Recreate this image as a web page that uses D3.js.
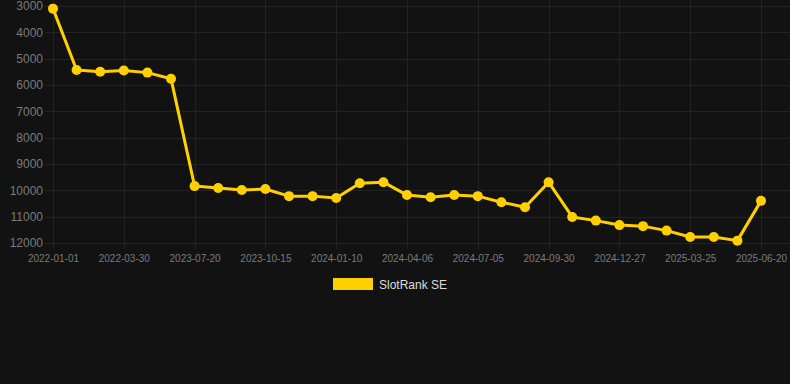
<!DOCTYPE html>
<html lang="en">
<head>
<meta charset="UTF-8">
<title>SlotRank SE</title>
<style>
    body { margin: 0; background: #121212; }
    #chart { width: 790px; height: 384px; }
    .grid line { stroke: #222222; stroke-width: 1px; }
    .axis text { fill: #7a7a7a; font-family: Arial, "Liberation Sans", sans-serif; }
    .axis path, .axis line { stroke: none; }
</style>
</head>
<body>
<div id="chart"></div>
<script src="https://cdn.jsdelivr.net/npm/d3@7/dist/d3.min.js"></script>
<script>
    var width = 790,
        height = 384;

    // rank per sample (31 samples, roughly one every 29 days)
    var rank = [3100, 5430, 5500, 5450, 5530, 5760, 9840, 9910, 9990, 9950,
                10220, 10220, 10290, 9730, 9690, 10180, 10260, 10180, 10220, 10450,
                10640, 9690, 11010, 11150, 11320, 11360, 11530, 11770, 11770, 11910,
                10400];
    // labels shown on the x axis, one every third sample
    var tickLabels = ["2022-01-01", "2022-03-30", "2023-07-20", "2023-10-15", "2024-01-10",
                      "2024-04-06", "2024-07-05", "2024-09-30", "2024-12-27", "2025-03-25", "2025-06-20"];
    var yTicks = [3000, 4000, 5000, 6000, 7000, 8000, 9000, 10000, 11000, 12000];
    var seriesName = "SlotRank SE";
    var color = "#ffd000";

    var svg = d3.select("#chart").append("svg")
        .attr("width", width)
        .attr("height", height);

    var plotLeft = 45, plotRight = 790, plotTop = 6, plotBottom = 243;

    var x = d3.scalePoint()
        .domain(d3.range(rank.length))
        .range([53, 761]);
    var y = d3.scaleLinear()
        .domain([3000, 12000])
        .range([plotTop, plotBottom]);

    // grid
    var grid = svg.append("g").attr("class", "grid");
    grid.selectAll(".h").data(yTicks).enter().append("line")
        .attr("x1", plotLeft).attr("x2", plotRight)
        .attr("y1", function(d) { return Math.round(y(d)) + 0.5; })
        .attr("y2", function(d) { return Math.round(y(d)) + 0.5; });
    var xTickIdx = d3.range(0, rank.length, 3);
    grid.selectAll(".v").data(xTickIdx).enter().append("line")
        .attr("x1", function(d) { return Math.round(x(d)) + 0.5; })
        .attr("x2", function(d) { return Math.round(x(d)) + 0.5; })
        .attr("y1", 0).attr("y2", plotBottom + 6);

    // axes
    svg.append("g")
        .attr("class", "axis")
        .attr("transform", "translate(" + (plotLeft - 2) + ",0)")
        .call(d3.axisLeft(y).tickValues(yTicks).tickSize(0).tickPadding(0).tickFormat(d3.format("d")))
        .selectAll("text").style("font-size", "12px");

    svg.append("g")
        .attr("class", "axis")
        .attr("transform", "translate(0," + (plotBottom + 8) + ")")
        .call(d3.axisBottom(x).tickValues(xTickIdx).tickSize(0).tickPadding(4)
            .tickFormat(function(d, i) { return tickLabels[i]; }))
        .selectAll("text").style("font-size", "10px");

    // line
    svg.append("path")
        .datum(rank)
        .attr("fill", "none")
        .attr("stroke", color)
        .attr("stroke-width", 3)
        .attr("stroke-linejoin", "round")
        .attr("d", d3.line()
            .x(function(d, i) { return x(i); })
            .y(function(d) { return y(d); }));

    svg.selectAll(".pt").data(rank).enter().append("circle")
        .attr("cx", function(d, i) { return x(i); })
        .attr("cy", function(d) { return y(d); })
        .attr("r", 5)
        .attr("fill", color);

    // legend
    var legend = svg.append("g").attr("transform", "translate(333,278)");
    legend.append("rect")
        .attr("width", 40).attr("height", 12)
        .attr("fill", color);
    legend.append("text")
        .attr("x", 46).attr("y", 10.5)
        .style("font-family", "Arial, 'Liberation Sans', sans-serif")
        .style("font-size", "12px")
        .style("fill", "#dddddd")
        .text(seriesName);
</script>
</body>
</html>
